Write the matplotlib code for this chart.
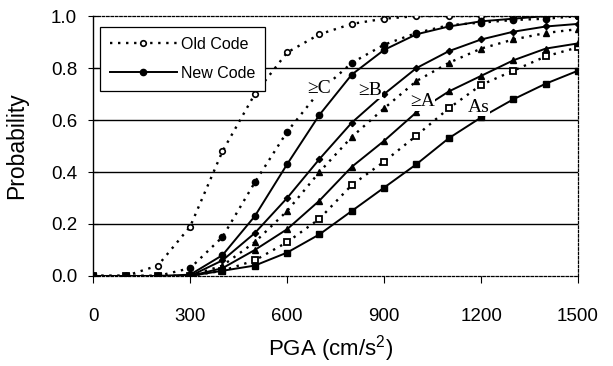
import matplotlib
matplotlib.use("Agg")
import matplotlib.pyplot as plt
from matplotlib.lines import Line2D

# PGA levels (cm/s^2)
pga = [0, 100, 200, 300, 400, 500, 600, 700, 800, 900, 1000, 1100, 1200, 1300, 1400, 1500]

# old code curves (dotted)
old_C = [0, 0, 0.04, 0.19, 0.48, 0.70, 0.86, 0.93, 0.97, 0.99, 1.0, 1.0, 1.0, 1.0, 1.0, 1.0]
old_B = [0, 0, 0, 0.03, 0.15, 0.36, 0.555, 0.71, 0.82, 0.89, 0.935, 0.965, 0.975, 0.985, 0.99, 1.0]
old_A = [0, 0, 0, 0.0, 0.04, 0.13, 0.25, 0.40, 0.535, 0.645, 0.75, 0.82, 0.875, 0.91, 0.935, 0.95]
old_As = [0, 0, 0, 0.0, 0.02, 0.06, 0.13, 0.22, 0.35, 0.44, 0.54, 0.645, 0.735, 0.79, 0.845, 0.88]

# new code curves (solid)
new_C = [0, 0, 0, 0.005, 0.08, 0.23, 0.43, 0.62, 0.775, 0.87, 0.93, 0.96, 0.98, 0.99, 1.0, 1.0]
new_B = [0, 0, 0, 0.0, 0.06, 0.165, 0.30, 0.45, 0.59, 0.70, 0.80, 0.865, 0.91, 0.94, 0.96, 0.97]
new_A = [0, 0, 0, 0.0, 0.03, 0.10, 0.18, 0.29, 0.42, 0.52, 0.63, 0.71, 0.77, 0.83, 0.875, 0.895]
new_As = [0, 0, 0, 0.0, 0.02, 0.04, 0.09, 0.16, 0.25, 0.34, 0.43, 0.53, 0.61, 0.68, 0.74, 0.79]

# state labels and where they sit
state_labels = ["≥C", "≥B", "≥A", "As"]
label_x = [700, 857, 1018, 1194]
label_y = [0.72, 0.715, 0.67, 0.65]

plt.rcParams['font.family'] = ['Liberation Sans', 'DejaVu Sans']
plt.rcParams['mathtext.fontset'] = 'custom'
plt.rcParams['mathtext.rm'] = 'Liberation Sans'

fig = plt.figure(figsize=(6.13, 3.66), dpi=100)
ax = fig.add_axes([0.152, 0.246, 0.791, 0.710])

dot = (0, (1, 2.4))

# gridlines
for g in [0.2, 0.4, 0.6, 0.8]:
    ax.axhline(g, color='black', lw=1.0, zorder=1)

# old code
ax.plot(pga, old_C, ls=dot, color='black', lw=1.7, marker='o', ms=4,
        mfc='white', mec='black', mew=1.2, zorder=3)
ax.plot(pga, old_B, ls=dot, color='black', lw=1.7, marker='o', ms=4.5,
        mfc='black', mec='black', zorder=3)
ax.plot(pga, old_A, ls=dot, color='black', lw=1.7, marker='^', ms=4.5,
        mfc='black', mec='black', zorder=3)
ax.plot(pga, old_As, ls=dot, color='black', lw=1.7, marker='s', ms=4,
        mfc='white', mec='black', mew=1.3, zorder=3)

# new code
ax.plot(pga, new_C, ls='-', color='black', lw=1.4, marker='o', ms=4.5,
        mfc='black', mec='black', zorder=4)
ax.plot(pga, new_B, ls='-', color='black', lw=1.4, marker='D', ms=3.2,
        mfc='black', mec='black', zorder=4)
ax.plot(pga, new_A, ls='-', color='black', lw=1.4, marker='^', ms=4,
        mfc='black', mec='black', zorder=4)
ax.plot(pga, new_As, ls='-', color='black', lw=1.4, marker='s', ms=4,
        mfc='black', mec='black', zorder=4)

for t, x, y in zip(state_labels, label_x, label_y):
    ax.text(x, y, t, ha='center', va='center', fontsize=14,
            family=['Liberation Serif', 'DejaVu Serif'], zorder=5,
            bbox=dict(facecolor='white', edgecolor='none', pad=0.2))

ax.set_xlim(0, 1500)
ax.set_ylim(0, 1.0)
ax.set_xticks([0, 300, 600, 900, 1200, 1500])
ax.set_yticks([0.0, 0.2, 0.4, 0.6, 0.8, 1.0])
ax.set_yticklabels(["0.0", "0.2", "0.4", "0.6", "0.8", "1.0"])
ax.tick_params(axis='x', direction='out', length=5, pad=18, labelsize=13.5, color='black')
ax.tick_params(axis='y', direction='inout', length=7, pad=8, labelsize=13.5, color='black')

for side in ['top', 'right', 'bottom']:
    ax.spines[side].set_linestyle((0, (2, 1.5)))
    ax.spines[side].set_linewidth(0.9)
ax.spines['left'].set_linewidth(1.0)

ax.set_xlabel("PGA (cm/s$^{2}$)", fontsize=16)
ax.set_ylabel("Probability", fontsize=16.5)
ax.xaxis.set_label_coords(0.49, -0.22)
ax.yaxis.set_label_coords(-0.135, 0.5)

handles = [
    Line2D([], [], ls=dot, color='black', lw=1.7, marker='o', ms=4,
           mfc='white', mec='black', mew=1.2),
    Line2D([], [], ls='-', color='black', lw=1.4, marker='o', ms=4.5,
           mfc='black', mec='black'),
]
leg = ax.legend(handles, ["Old Code", "New Code"], loc='upper left',
                bbox_to_anchor=(0.014, 0.958), fontsize=11.5, frameon=True,
                fancybox=False, framealpha=1, edgecolor='black',
                borderaxespad=0, handlelength=4.2, borderpad=0.6,
                labelspacing=0.9, handletextpad=0.3)
leg.get_frame().set_linewidth(0.9)

fig.savefig("out.png", dpi=100)
